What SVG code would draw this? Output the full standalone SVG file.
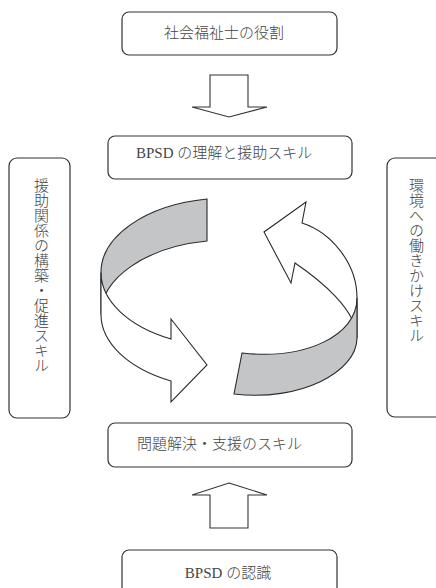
<svg xmlns="http://www.w3.org/2000/svg" width="436" height="588" viewBox="0 0 436 588">
<style>
.box{fill:#fff;stroke:#333;stroke-width:1.2}
.lbl{font-family:"Liberation Serif","Noto Sans CJK JP",serif;font-size:15px;fill:#444;font-weight:300}
.vert{writing-mode:vertical-rl}
.blk{fill:#fff;stroke:#333;stroke-width:1.1;stroke-linejoin:miter}
.gray{fill:#c4c5c7;stroke:#2a2a2a;stroke-width:1.1}
.white{fill:#fff;stroke:#2a2a2a;stroke-width:1.1}
</style>
<rect width="436" height="588" fill="#fff"/>
<g id="connectors">
  <polygon class="blk" points="210,75 248,75 248,107 267,107 229,117 192,107 210,107"/>
  <polygon class="blk" points="229,483 267,495 248,495 248,528 210,528 210,495 192,495"/>
  <g id="cycle-left">
    <path class="gray" d="M207,199 A127,74.5 0 0 0 101,272.5 L101,314.5 A127,74.5 0 0 1 207,241 Z"/>
    <path class="white" d="M101,272.5 A127,74.5 0 0 0 171,339 L171,319 L207,365 L171,402 L171,381 A127,74.5 0 0 1 101,314.5 Z"/>
  </g>
  <g id="cycle-right">
    <path class="white" d="M302,223 L306,202 L264,232 L291,283 L295,263 C320,280 357,310 357,338 L357,298 C357,262 330,232 302,223 Z"/>
    <path class="gray" d="M357,298 C357,336 305,360 242,353 L234,394 C300,402 357,372 357,338 Z"/>
  </g>
</g>
<g id="role">
  <rect class="box" x="122" y="12" width="215" height="43" rx="7"/>
  <text class="lbl" x="224" y="38" text-anchor="middle">社会福祉士の役割</text>
</g>
<g id="understanding">
  <rect class="box" x="108" y="136" width="244" height="43" rx="7"/>
  <text class="lbl" x="136" y="158">BPSD の理解と援助スキル</text>
</g>
<g id="problem-solving">
  <rect class="box" x="108" y="423" width="244" height="44" rx="7"/>
  <text class="lbl" x="137" y="449">問題解決・支援のスキル</text>
</g>
<g id="recognition">
  <rect class="box" x="122" y="550" width="215" height="50" rx="7"/>
  <text class="lbl" x="228" y="578" text-anchor="middle">BPSD の認識</text>
</g>
<g id="relationship">
  <rect class="box" x="9" y="158" width="61" height="260" rx="8"/>
  <text class="lbl vert" x="40" y="178">援助関係の構築・促進スキル</text>
</g>
<g id="environment">
  <rect class="box" x="387" y="158" width="60" height="259" rx="8"/>
  <text class="lbl vert" x="415" y="178">環境への働きかけスキル</text>
</g>
</svg>
